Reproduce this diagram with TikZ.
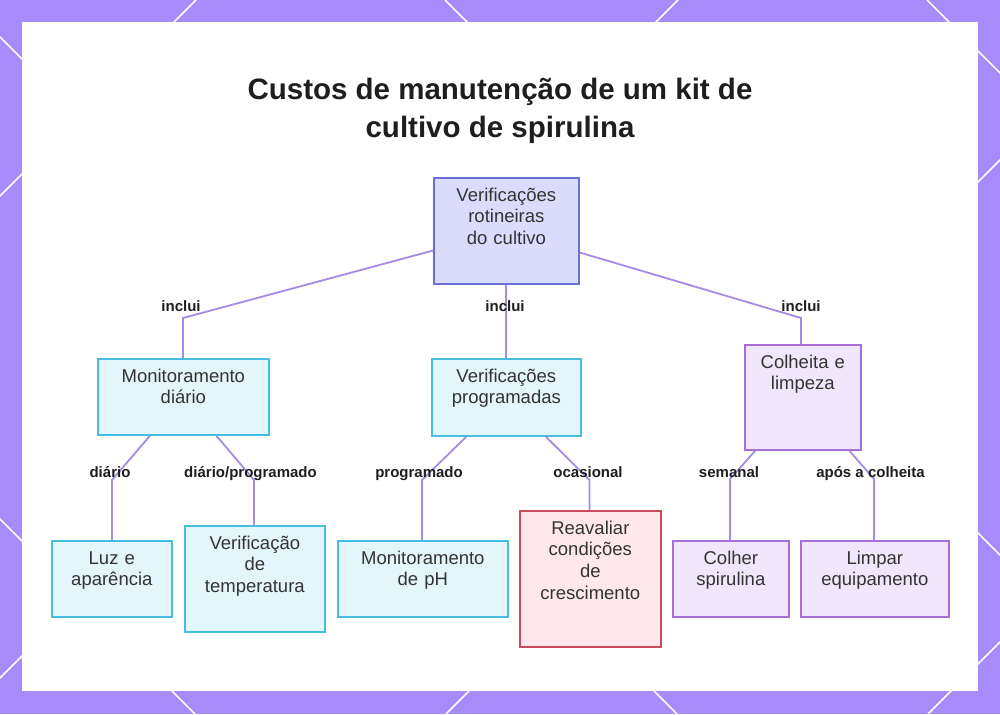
\documentclass[tikz,border=0pt]{standalone}
\usepackage{fontspec}
\setmainfont{Liberation Sans}
\definecolor{bgpurple}{HTML}{A78BFA}
\definecolor{conncol}{HTML}{A68AE6}
\definecolor{rootfill}{HTML}{D9DCFB}
\definecolor{rootdraw}{HTML}{6870D4}
\definecolor{cyanfill}{HTML}{E2F6FC}
\definecolor{cyandraw}{HTML}{45BEE0}
\definecolor{purpfill}{HTML}{F1E7FC}
\definecolor{purpdraw}{HTML}{A86ED6}
\definecolor{redfill}{HTML}{FFE8EC}
\definecolor{reddraw}{HTML}{CC4B5A}
\definecolor{txtcol}{HTML}{333333}
\definecolor{lblcol}{HTML}{1E1E1E}
\newcommand\mkbox[7]{%
  \node[boxshape,#2,minimum width=#5pt,minimum height=#6pt] (#1) at (#3,#4) {};
  \node[boxtxt,text width=#5pt+30pt] (#1t) at ([yshift=-24pt]#1.north) {#7};
}
\begin{document}
\begin{tikzpicture}[x=1pt,y=-1pt,
  boxshape/.style={draw,line width=1.7pt,inner sep=0pt,anchor=north west},
  rootbox/.style={fill=rootfill,draw=rootdraw},
  cyanbox/.style={fill=cyanfill,draw=cyandraw},
  purpbox/.style={fill=purpfill,draw=purpdraw},
  redbox/.style={fill=redfill,draw=reddraw},
  boxtxt/.style={anchor=base,align=center,inner sep=0pt,text=txtcol,
    font=\fontsize{18.5}{21.8}\selectfont},
  conn/.style={draw=conncol,line width=1.8pt},
  lbl/.style={anchor=base,inner sep=0pt,text=lblcol,font=\fontsize{15}{17}\selectfont\bfseries},
  ttl/.style={anchor=base,inner sep=0pt,text=lblcol,font=\fontsize{29.5}{36}\selectfont\bfseries},
  lattice/.style={draw=white,line width=1.6pt}]
\useasboundingbox (0,0) rectangle (1000,714);
\fill[bgpurple] (0,0) rectangle (1000,714);
\begin{scope}
\clip (0,0) rectangle (1000,714);
\foreach \c in {196,678,1160,1642} {\draw[lattice] (\c,0) -- (\c-714,714);}
\foreach \c in {-519,-37,445,927} {\draw[lattice] (\c,0) -- (\c+714,714);}
\end{scope}
\fill[white] (22,22) rectangle (978,691);
% title
\node[ttl] (title1) at (500,100) {Custos de manutenção de um kit de};
\node[ttl] (title2) at (500,138) {cultivo de spirulina};
% bends
\coordinate (b1) at (183,318);
\coordinate (b3) at (801,318);
\coordinate (c1) at (112,480);
\coordinate (c2) at (254,480);
\coordinate (c3) at (422,480);
\coordinate (c4) at (589.5,480);
\coordinate (c5) at (730,479);
\coordinate (c6) at (874,479);
% boxes
\mkbox{root}{rootbox}{433}{177}{145}{106}{Verificações\\rotineiras\\do cultivo}
\mkbox{mon}{cyanbox}{97}{358}{171}{76}{Monitoramento\\diário}
\mkbox{prog}{cyanbox}{431}{358}{149}{77}{Verificações\\programadas}
\mkbox{colh}{purpbox}{744}{344}{116}{105}{Colheita e\\limpeza}
\mkbox{luz}{cyanbox}{51}{540}{120}{76}{Luz e\\aparência}
\mkbox{temp}{cyanbox}{184}{525}{140}{106}{Verificação\\de\\temperatura}
\mkbox{ph}{cyanbox}{337}{540}{170}{76}{Monitoramento\\de pH}
\mkbox{reav}{redbox}{519}{510}{141}{136}{Reavaliar\\condições\\de\\crescimento}
\mkbox{colher}{purpbox}{672}{540}{116}{76}{Colher\\spirulina}
\mkbox{limpar}{purpbox}{800}{540}{148}{76}{Limpar\\equipamento}
% connectors
\draw[conn] (root) -- (b1) -- (b1 |- mon.north);
\draw[conn] (root) -- (prog);
\draw[conn] (root) -- (b3) -- (b3 |- colh.north);
\draw[conn] (mon) -- (c1) -- (c1 |- luz.north);
\draw[conn] (mon) -- (c2) -- (c2 |- temp.north);
\draw[conn] (prog) -- (c3) -- (c3 |- ph.north);
\draw[conn] (prog) -- (c4) -- (c4 |- reav.north);
\draw[conn] (colh) -- (c5) -- (c5 |- colher.north);
\draw[conn] (colh) -- (c6) -- (c6 |- limpar.north);
% labels
\node[lbl] (l1) at (181,311) {inclui};
\node[lbl] (l2) at (505,311) {inclui};
\node[lbl] (l3) at (801,311) {inclui};
\node[lbl] (l4) at (110,477) {diário};
\node[lbl] (l5) at (250.5,477) {diário/programado};
\node[lbl] (l6) at (419,477) {programado};
\node[lbl] (l7) at (588,477) {ocasional};
\node[lbl] (l8) at (729,477) {semanal};
\node[lbl] (l9) at (870.5,477) {após a colheita};
\end{tikzpicture}
\end{document}
